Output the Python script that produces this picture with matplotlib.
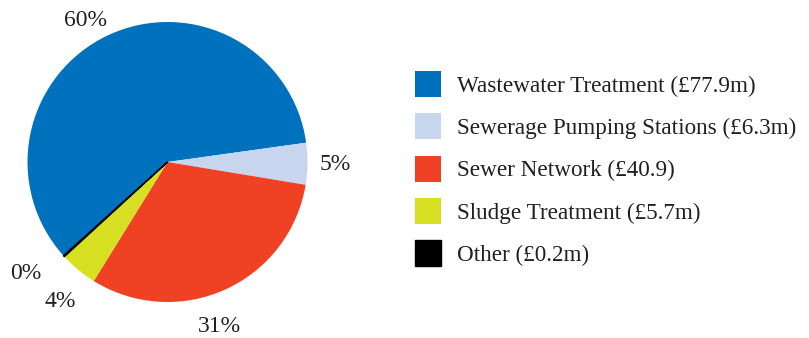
import matplotlib
import matplotlib.pyplot as plt
import numpy as np

matplotlib.use("Agg")

# Spend by category, £m
categories = [
    "Wastewater Treatment (£77.9m)",
    "Sewerage Pumping Stations (£6.3m)",
    "Sewer Network (£40.9)",
    "Sludge Treatment (£5.7m)",
    "Other (£0.2m)",
]
spend = [77.9, 6.3, 40.9, 5.7, 0.2]
pct_labels = ["60%", "5%", "31%", "4%", "0%"]
colors = ["#0071bc", "#c7d5ee", "#ef4123", "#d7df23", "#000000"]

# label placement: radial distance and angle nudge (degrees) per slice
label_dist = [1.17, 1.2, 1.23, 1.26, 1.29]
label_nudge = [5, 0, -7, 2, -4]

TEXT = "#231f20"
plt.rcParams["font.family"] = ["Liberation Serif", "DejaVu Serif"]

fig = plt.figure(figsize=(8.09, 3.38), dpi=100)
W, H = 809, 338
cx, cy, r = 167.5, 338 - 162, 140
ax = fig.add_axes([(cx - r) / W, (cy - r) / H, 2 * r / W, 2 * r / H])

wedges, _ = ax.pie(
    spend,
    colors=colors,
    startangle=222,
    counterclock=False,
    wedgeprops={"linewidth": 0},
)
# keep the tiny "Other" slice visible
wedges[-1].set_edgecolor("#000000")
wedges[-1].set_linewidth(1.0)
ax.set_xlim(-1, 1)
ax.set_ylim(-1, 1)

for w, lab, d, nudge in zip(wedges, pct_labels, label_dist, label_nudge):
    ang = np.deg2rad((w.theta1 + w.theta2) / 2 + nudge)
    ax.text(d * np.cos(ang), d * np.sin(ang), lab, ha="center", va="center",
            fontsize=17, color=TEXT)

fig.legend(
    wedges,
    categories,
    loc="upper left",
    bbox_to_anchor=(415 / W, 1 - 71 / H),
    frameon=False,
    fontsize=16.7,
    labelcolor=TEXT,
    handlelength=1.12,
    handleheight=1.35,
    handletextpad=0.7,
    labelspacing=0.7,
    borderpad=0,
    borderaxespad=0,
)

fig.savefig("out.png", dpi=100)
plt.close(fig)
